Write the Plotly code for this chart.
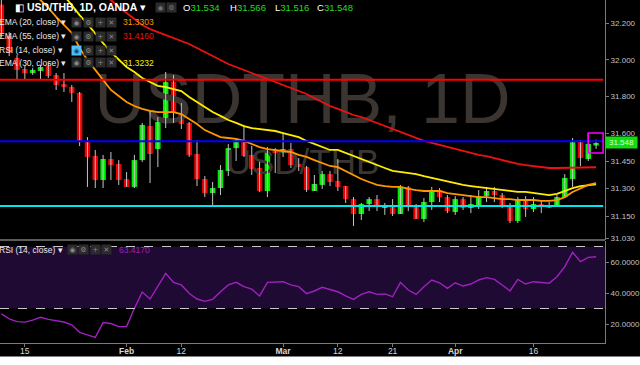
import plotly.graph_objects as go
import pandas as pd

# ---------------- data ----------------
dates = pd.bdate_range("2018-01-10", "2018-04-26")

opens = [32.300, 32.130, 32.010, 31.950, 31.928, 31.939, 31.966, 31.917, 31.868, 31.852,
         31.820, 31.559, 31.477, 31.347, 31.461, 31.434, 31.352, 31.309, 31.455, 31.640,
         31.515, 31.657, 31.879, 31.711, 31.657, 31.488, 31.352, 31.276, 31.303, 31.396,
         31.520, 31.564, 31.483, 31.412, 31.287, 31.504, 31.493, 31.515, 31.434, 31.418,
         31.287, 31.320, 31.379, 31.341, 31.314, 31.243, 31.162, 31.216, 31.243, 31.195,
         31.205, 31.162, 31.309, 31.200, 31.135, 31.227, 31.292, 31.254, 31.173, 31.243,
         31.195, 31.211, 31.260, 31.287, 31.265, 31.200, 31.124, 31.243, 31.189, 31.216,
         31.211, 31.200, 31.254, 31.352, 31.553, 31.461, 31.534]
highs = [32.330, 32.150, 32.025, 31.966, 31.955, 31.972, 31.983, 31.928, 31.928, 31.863,
         31.825, 31.580, 31.510, 31.483, 31.499, 31.455, 31.390, 31.483, 31.657, 31.727,
         31.689, 31.934, 31.917, 31.765, 31.662, 31.564, 31.368, 31.336, 31.428, 31.542,
         31.575, 31.646, 31.532, 31.445, 31.526, 31.520, 31.600, 31.548, 31.466, 31.423,
         31.374, 31.396, 31.396, 31.461, 31.314, 31.254, 31.222, 31.254, 31.265, 31.222,
         31.243, 31.320, 31.314, 31.216, 31.249, 31.309, 31.303, 31.265, 31.259, 31.254,
         31.265, 31.292, 31.309, 31.309, 31.276, 31.222, 31.254, 31.259, 31.254, 31.238,
         31.227, 31.265, 31.379, 31.575, 31.564, 31.602, 31.566]
lows = [32.120, 32.020, 31.890, 31.890, 31.918, 31.890, 31.901, 31.836, 31.825, 31.771,
        31.531, 31.309, 31.303, 31.303, 31.347, 31.320, 31.309, 31.303, 31.445, 31.330,
        31.417, 31.629, 31.657, 31.624, 31.472, 31.314, 31.254, 31.200, 31.265, 31.368,
        31.450, 31.472, 31.374, 31.282, 31.254, 31.385, 31.472, 31.412, 31.396, 31.282,
        31.287, 31.298, 31.314, 31.287, 31.222, 31.097, 31.129, 31.178, 31.178, 31.157,
        31.151, 31.162, 31.178, 31.135, 31.118, 31.184, 31.227, 31.167, 31.157, 31.184,
        31.167, 31.189, 31.227, 31.227, 31.195, 31.113, 31.113, 31.146, 31.173, 31.167,
        31.195, 31.200, 31.249, 31.309, 31.423, 31.450, 31.516]
closes = [32.140, 32.040, 31.945, 31.928, 31.945, 31.961, 31.912, 31.863, 31.852, 31.820,
          31.553, 31.472, 31.347, 31.461, 31.428, 31.347, 31.309, 31.455, 31.646, 31.488,
          31.662, 31.879, 31.711, 31.651, 31.483, 31.352, 31.276, 31.303, 31.401, 31.520,
          31.564, 31.477, 31.407, 31.287, 31.499, 31.493, 31.515, 31.428, 31.418, 31.292,
          31.325, 31.379, 31.336, 31.309, 31.243, 31.162, 31.216, 31.243, 31.200, 31.197,
          31.162, 31.309, 31.200, 31.135, 31.227, 31.292, 31.254, 31.178, 31.243, 31.195,
          31.216, 31.260, 31.287, 31.265, 31.200, 31.124, 31.243, 31.189, 31.216, 31.205,
          31.195, 31.254, 31.358, 31.553, 31.466, 31.543, 31.548]

ema20 = [32.570, 32.521, 32.461, 32.407, 32.363, 32.325, 32.282, 32.233, 32.189, 32.146,
         32.064, 31.999, 31.945, 31.890, 31.836, 31.803, 31.771, 31.749, 31.733, 31.722,
         31.716, 31.716, 31.716, 31.705, 31.678, 31.651, 31.618, 31.597, 31.580, 31.575,
         31.570, 31.559, 31.542, 31.526, 31.515, 31.510, 31.504, 31.499, 31.483, 31.472,
         31.455, 31.439, 31.423, 31.417, 31.396, 31.374, 31.352, 31.336, 31.320, 31.314,
         31.309, 31.309, 31.298, 31.292, 31.287, 31.287, 31.287, 31.276, 31.271, 31.265,
         31.260, 31.254, 31.254, 31.249, 31.243, 31.243, 31.238, 31.238, 31.238, 31.233,
         31.233, 31.238, 31.254, 31.282, 31.303, 31.320, 31.330]
ema55 = [32.868, 32.814, 32.760, 32.711, 32.662, 32.613, 32.570, 32.532, 32.493, 32.461,
         32.434, 32.407, 32.379, 32.352, 32.325, 32.287, 32.254, 32.222, 32.189, 32.167,
         32.151, 32.135, 32.118, 32.102, 32.086, 32.064, 32.042, 32.021, 31.999, 31.977,
         31.961, 31.945, 31.928, 31.912, 31.896, 31.879, 31.863, 31.847, 31.830, 31.814,
         31.792, 31.771, 31.749, 31.733, 31.716, 31.700, 31.689, 31.673, 31.657, 31.640,
         31.624, 31.608, 31.591, 31.575, 31.559, 31.548, 31.537, 31.526, 31.515, 31.504,
         31.493, 31.483, 31.477, 31.466, 31.455, 31.445, 31.434, 31.428, 31.423, 31.417,
         31.412, 31.412, 31.412, 31.414, 31.415, 31.416, 31.416]
ema30 = [32.705, 32.662, 32.613, 32.564, 32.515, 32.466, 32.423, 32.379, 32.347, 32.298,
         32.243, 32.195, 32.140, 32.091, 32.042, 31.999, 31.961, 31.934, 31.901, 31.879,
         31.858, 31.852, 31.841, 31.830, 31.798, 31.771, 31.743, 31.716, 31.695, 31.673,
         31.657, 31.640, 31.629, 31.624, 31.618, 31.613, 31.602, 31.591, 31.580, 31.559,
         31.542, 31.526, 31.510, 31.510, 31.493, 31.477, 31.461, 31.445, 31.428, 31.412,
         31.396, 31.390, 31.385, 31.379, 31.368, 31.358, 31.352, 31.341, 31.330, 31.320,
         31.314, 31.309, 31.303, 31.298, 31.292, 31.287, 31.282, 31.282, 31.276, 31.271,
         31.265, 31.271, 31.287, 31.303, 31.314, 31.320, 31.323]
rsi = [26.5, 23.3, 21.5, 21.2, 22.5, 24.3, 23.0, 22.2, 21.3, 19.5,
       14.6, 13.0, 11.4, 20.9, 20.3, 18.3, 18.3, 30.1, 40.6, 36.1,
       44.1, 52.7, 46.9, 45.2, 39.8, 36.1, 34.6, 35.9, 40.8, 45.2,
       46.9, 44.1, 42.5, 38.1, 46.9, 46.9, 47.3, 45.2, 44.1, 39.6,
       41.3, 43.7, 42.4, 40.8, 38.1, 35.9, 39.1, 40.8, 39.1, 39.4,
       37.6, 46.9, 41.9, 39.1, 44.1, 48.4, 46.6, 43.0, 46.6, 44.5,
       45.8, 48.4, 49.9, 48.8, 45.2, 41.3, 48.8, 45.8, 47.3, 46.6,
       46.3, 50.5, 57.0, 66.3, 60.2, 63.0, 63.4]

level_prices = [31.892, 31.557, 31.205]
level_colors = ["#ff0000", "#0000ff", "#00e5ee"]

tick_dates = ["2018-01-15", "2018-02-01", "2018-02-12", "2018-03-01",
              "2018-03-12", "2018-03-21", "2018-04-02", "2018-04-16"]
tick_text = ["15", "<b>Feb</b>", "12", "<b>Mar</b>", "12", "21", "<b>Apr</b>", "16"]
price_ticks = [32.2, 32.0, 31.8, 31.6, 31.45, 31.3, 31.15, 31.03]
rsi_ticks = [20, 40, 60]
rsi_bands = [30, 70]

header_ohlc = [("O", "31.534"), ("H", "31.566"), ("L", "31.516"), ("C", "31.548")]
legend_rows = [("EMA (20, close)", "31.3303", "#ff9800"),
               ("EMA (55, close)", "31.4160", "#ee1111"),
               ("RSI (14, close)", "", "#ffffff"),
               ("EMA (30, close)", "31.3232", "#ffee00")]
rsi_last = "63.4170"
last_price = "31.548"
box_low, box_high = 31.494, 31.602

# ---------------- figure ----------------
x = list(range(len(dates)))
date_pos = {d.strftime("%Y-%m-%d"): i for i, d in enumerate(dates)}
tick_vals = [date_pos[d] for d in tick_dates]
XR = [-0.174, 77.14]
FONT = "Liberation Sans"
GREEN, RED = "#00ee00", "#ee0000"

fig = go.Figure()

# watermarks (behind everything)
xmid = sum(XR) / 2
fig.add_trace(go.Scatter(x=[xmid], y=[31.752], mode="text", text=["USDTHB, 1D"],
                         textfont=dict(size=70, color="#3b3531", family=FONT),
                         yaxis="y", hoverinfo="skip"))
fig.add_trace(go.Scatter(x=[xmid], y=[31.428], mode="text", text=["USD/THB"],
                         textfont=dict(size=35, color="#3b3531", family=FONT),
                         yaxis="y", hoverinfo="skip"))

# wicks
wx, wy = [], []
for i in x:
    wx += [i, i, None]
    wy += [lows[i], highs[i], None]
fig.add_trace(go.Scatter(x=wx, y=wy, mode="lines", line=dict(color="#c4c4c4", width=1),
                         yaxis="y", hoverinfo="skip"))

# bodies
bases = [min(o, c) for o, c in zip(opens, closes)]
heights = [max(abs(c - o), 0.008) for o, c in zip(opens, closes)]
colors = [GREEN if c >= o else RED for o, c in zip(opens, closes)]
fig.add_trace(go.Bar(x=x, y=heights, base=bases, width=0.7,
                     marker=dict(color=colors, line=dict(width=0)), yaxis="y"))

# EMAs
for series, col in [(ema55, "#ee1111"), (ema30, "#ffee00"), (ema20, "#ff9800")]:
    fig.add_trace(go.Scatter(x=x, y=series, mode="lines", line=dict(color=col, width=1.8),
                             yaxis="y", hoverinfo="skip"))

# RSI
fig.add_trace(go.Scatter(x=x, y=rsi, mode="lines", line=dict(color="#a020c0", width=1.4),
                         xaxis="x", yaxis="y2", hoverinfo="skip"))

shapes = []
shapes.append(dict(type="rect", xref="paper", yref="y2", x0=0, x1=1, y0=rsi_bands[0], y1=rsi_bands[1],
                   fillcolor="#1f0a33", line=dict(width=0), layer="below"))
for b in rsi_bands:
    shapes.append(dict(type="line", xref="paper", yref="y2", x0=0, x1=1, y0=b, y1=b,
                       line=dict(color="#c8c8c8", width=1, dash="dash")))
for p, c in zip(level_prices, level_colors):
    shapes.append(dict(type="line", xref="paper", yref="y", x0=0, x1=0.997, y0=p, y1=p,
                       line=dict(color=c, width=2), layer="above"))
shapes.append(dict(type="rect", xref="x", yref="y", x0=x[-1] - 1.0, x1=x[-1] + 0.9,
                   y0=box_low, y1=box_high, line=dict(color="#ff00ff", width=1.5)))
# panel separator
shapes.append(dict(type="line", xref="paper", yref="paper", x0=0, x1=1, y0=103 / 343, y1=103 / 343,
                   line=dict(color="#7a7a7a", width=1.5)))
# white strip at the bottom
shapes.append(dict(type="rect", xref="paper", yref="paper", x0=-0.01, x1=1.06,
                   y0=-13.5 / 343, y1=-25 / 343, fillcolor="#ffffff", line=dict(width=0)))


def px(xp, yp):
    return xp / 609.0, (343.0 - yp) / 343.0


annots = []


def text(xp, yp, t, size, color="#ffffff", **kw):
    ax, ay = px(xp, yp)
    annots.append(dict(xref="paper", yref="paper", x=ax, y=ay, text=t, showarrow=False,
                       xanchor="left", yanchor="middle",
                       font=dict(size=size, color=color, family=FONT), borderpad=0, **kw))


def icon(xp, yp, sym, bg="#2b2b2b", fg="#8a8a8a"):
    ax, ay = px(xp, yp)
    annots.append(dict(xref="paper", yref="paper", x=ax, y=ay, text=sym, showarrow=False,
                       xanchor="center", yanchor="middle", width=9, height=9,
                       bgcolor=bg, borderpad=0,
                       font=dict(size=7, color=fg, family="DejaVu Sans")))


# header
text(14, 7, "◧", 10)
text(26, 7, "<b>USD/THB, 1D, OANDA</b> ▾", 10.5)
icon(162, 7, "◉", fg="#777")
icon(173, 7, "⚙", fg="#777")
hx = [183, 231, 276, 318]
for (lab, val), xx in zip(header_ohlc, hx):
    text(xx, 7, lab + '<span style="color:#22dd22">' + val + "</span>", 9.5)

# indicator legend rows
rows_y = [22, 36, 50, 63]
for (lab, val, col), yy in zip(legend_rows, rows_y):
    text(-2, yy, lab + " ▾", 8.5, "#e8e8e8")
    syms = ["◉", "⚙", "+", "✕"]
    for k, s in enumerate(syms):
        if lab.startswith("RSI") and k == 0:
            icon(77.5 + 11.7 * k, yy, s, bg="#4fc3f7", fg="#0d4f75")
        else:
            icon(77.5 + 11.7 * k, yy, s)
    if val:
        text(123, yy, val, 8.5, col)

# RSI panel legend
text(-2, 250, "RSI (14, close) ▾", 8.5, "#e8e8e8")
for k, s in enumerate(["◉", "⚙", "+", "✕"]):
    icon(72.5 + 11.7 * k, 250, s)
text(119, 250, rsi_last, 8.5, "#a020c0")

# last price tag
annots.append(dict(xref="paper", yref="y", x=1.0, y=float(last_price), text=last_price,
                   showarrow=False, xanchor="left", yanchor="middle", width=31, height=11,
                   bgcolor="#11dd11", borderpad=0, align="center",
                   font=dict(size=8, color="#d8ffd8", family=FONT)))

axis_common = dict(showgrid=False, zeroline=False, showline=True, linecolor="#7a7a7a",
                   linewidth=1, ticks="outside", ticklen=3, tickcolor="#7a7a7a")

fig.update_layout(
    width=640, height=365, margin=dict(l=0, r=31, t=0, b=22),
    paper_bgcolor="#000000", plot_bgcolor="#000000",
    showlegend=False, barmode="overlay", hovermode=False, dragmode=False,
    xaxis=dict(domain=[0, 1], range=XR, anchor="y2", tickvals=tick_vals, ticktext=tick_text,
               ticklabelstandoff=-3,
               tickfont=dict(size=8.5, color="#d8d8d8", family=FONT), **axis_common),
    yaxis=dict(domain=[103 / 343, 1], range=[31.0207, 32.325], side="right", anchor="x",
               tickvals=price_ticks, ticktext=["%.3f" % v for v in price_ticks],
               tickfont=dict(size=8, color="#c0c0c0", family=FONT), **axis_common),
    yaxis2=dict(domain=[0, 102 / 343], range=[7.74, 73.55], side="right", anchor="x",
                tickvals=rsi_ticks, ticktext=["%.4f" % v for v in rsi_ticks],
                tickfont=dict(size=8, color="#c0c0c0", family=FONT), **axis_common),
    shapes=shapes, annotations=annots,
)

fig.write_html("out.html", config={"displayModeBar": False})
